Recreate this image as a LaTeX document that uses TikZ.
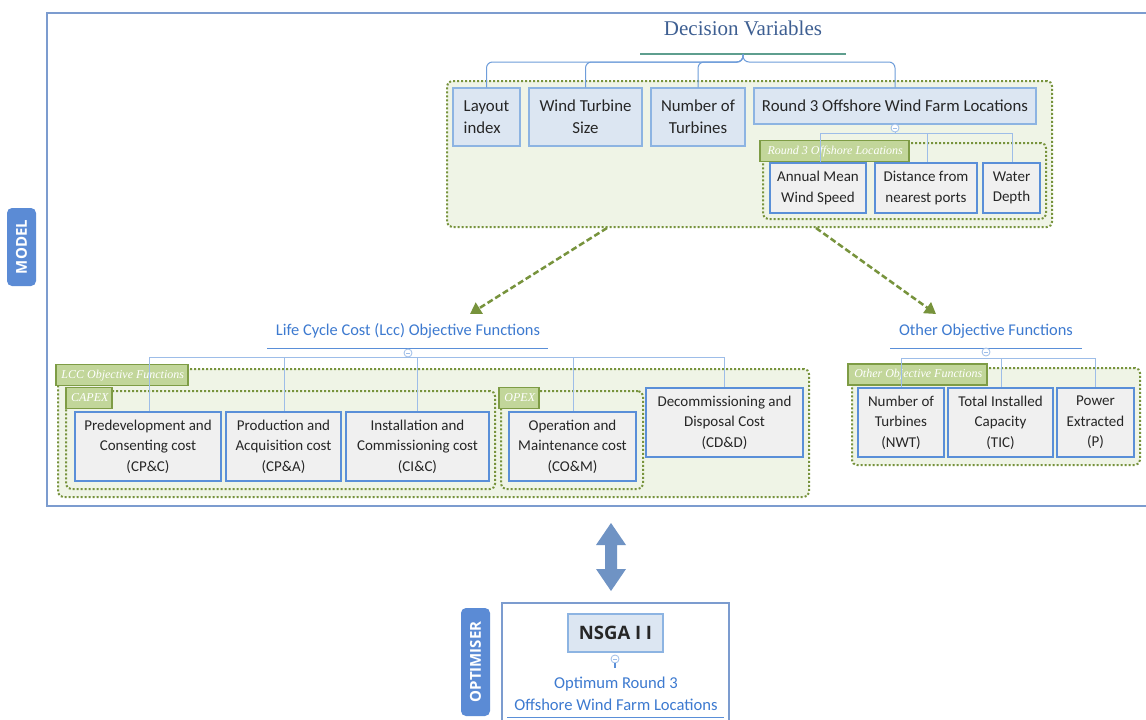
\documentclass[tikz,border=0pt]{standalone}
\usepackage{fontspec}
\usetikzlibrary{arrows.meta,calc}
\newfontfamily\bodyf{Carlito}
\newfontfamily\serf{Liberation Serif}
\newfontfamily\labf{Open Sans}
\definecolor{frameblue}{HTML}{7C9CCF}
\definecolor{labelblue}{HTML}{5B8BD5}
\definecolor{dvfill}{HTML}{DCE6F2}
\definecolor{dvdraw}{HTML}{8DB4E2}
\definecolor{subfill}{HTML}{F0F0F0}
\definecolor{subdraw}{HTML}{5A8FD8}
\definecolor{contfill}{HTML}{EFF4E6}
\definecolor{contdraw}{HTML}{77933C}
\definecolor{tagfill}{HTML}{C2D69A}
\definecolor{tagdraw}{HTML}{7E9C45}
\definecolor{connc}{HTML}{6E9DDA}
\definecolor{lconn}{HTML}{9DBDE8}
\definecolor{titleblue}{HTML}{3E5F92}
\definecolor{lccblue}{HTML}{3D7AD0}
\definecolor{tealline}{HTML}{5E9E8E}
\definecolor{arrgreen}{HTML}{77933C}
\definecolor{arrblue}{HTML}{6F93C4}
\definecolor{txt}{HTML}{262626}
\tikzset{
  dvbox/.style={draw=dvdraw, fill=dvfill, line width=1.5pt, text=txt, align=center,
    font=\bodyf\fontsize{16.8}{22}\selectfont, inner sep=0pt},
  subbox/.style={draw=subdraw, fill=subfill, line width=2pt, text=txt, align=center,
    font=\bodyf\fontsize{15}{20.5}\selectfont, inner sep=0pt},
  cont/.style={draw=contdraw, fill=contfill, dotted, line width=2pt, rounded corners=5pt},
  tagbox/.style={draw=tagdraw, fill=tagfill, line width=1.5pt, text=white, anchor=west,
    font=\serf\itshape\fontsize{12}{14}\selectfont, inner sep=0pt, minimum height=21pt, text height=9pt, text depth=3pt},
  conn/.style={draw=connc, line width=1pt, rounded corners=6pt},
  lconnst/.style={draw=lconn, line width=1pt},
  circ/.style={circle, draw=lconn, fill=white, line width=0.8pt, minimum size=8pt, inner sep=0pt,
    path picture={\draw[lconn,line width=0.7pt] ([xshift=-2pt]path picture bounding box.center) -- ([xshift=2pt]path picture bounding box.center);}},
  ttl/.style={text=lccblue, font=\bodyf\fontsize{16.4}{20}\selectfont, inner sep=0pt},
  garrow/.style={draw=arrgreen, line width=2.5pt, dash pattern=on 6pt off 3pt, -{Triangle[length=11pt,width=13pt]}},
  sidelab/.style={fill=labelblue, rounded corners=5pt, text=white, rotate=90, inner sep=0pt,
    font=\labf\bfseries\fontsize{15}{17}\selectfont}
}
\begin{document}
\begin{tikzpicture}[x=1pt,y=-1pt]
\useasboundingbox[fill=white] (0,0) rectangle (1146,720);

% model frame
\draw[frameblue, line width=2pt] (1160,13) -- (47,13) -- (47,506) -- (1160,506);
\node[sidelab, minimum width=78pt, minimum height=29pt] (modellab) at (21.5,247) {MODEL};

% decision variables
\node[text=titleblue, font=\serf\fontsize{21}{24}\selectfont, inner sep=0pt] (dvt) at (743,28) {Decision Variables};
\draw[tealline, line width=2pt] (640,54) -- (846,54);
\coordinate (dvhub) at (743,54);

\node[cont, minimum width=605pt, minimum height=146pt] (dvcont) at (749.5,154) {};

\node[dvbox, minimum width=67pt, minimum height=58pt, align=left] (layout) at (486.5,117) {Layout\\index};
\node[dvbox, minimum width=113pt, minimum height=58pt] (wts) at (585.5,117) {Wind Turbine\\Size};
\node[dvbox, minimum width=94pt, minimum height=58pt] (not) at (698,117) {Number of\\Turbines};
\node[dvbox, minimum width=282pt, minimum height=36pt] (r3) at (895,106) {Round 3 Offshore Wind Farm Locations};

\draw[conn] (dvhub) -- (743,62) -| (layout.north);
\draw[conn] (dvhub) -- (743,62) -| (wts.north);
\draw[conn] (dvhub) -- (743,62) -| (not.north);
\draw[conn] (dvhub) -- (743,62) -| (r3.north);

% round 3 sub
\node[cont, minimum width=283pt, minimum height=76pt] (r3cont) at (904.5,181) {};
\node[tagbox, minimum width=149pt] (r3tag) at (759,151) {\hspace{2pt}Round 3 Offshore Locations};
\node[circ] (r3c) at (895,128) {};
\draw[lconnst] (r3c) -- (895,133);
\draw[lconnst] (820,163) -- (820,133) -- (1012,133) -- (1012,163);
\draw[lconnst] (927,133) -- (927,163);
\node[subbox, minimum width=96pt, minimum height=50pt] (ams) at (818,188) {Annual Mean\\Wind Speed};
\node[subbox, minimum width=102pt, minimum height=50pt] (dist) at (926,188) {Distance from\\nearest ports};
\node[subbox, minimum width=57pt, minimum height=50pt] (wd) at (1011.5,188) {Water\\Depth};

% green dashed arrows
\coordinate (ga1) at (607,228);
\coordinate (ga2) at (816,228);
\draw[garrow] (ga1) -- (470,314);
\draw[garrow] (ga2) -- (936,314);

% LCC
\node[ttl] (lcct) at (408,331) {Life Cycle Cost (Lcc) Objective Functions};
\draw[subdraw, line width=1pt] (267,348) -- (548,348);
\node[cont, minimum width=751pt, minimum height=128pt] (lcccont) at (433.5,433) {};
\node[tagbox, minimum width=132pt] (lcctag) at (55,375) {\hspace{2pt}LCC Objective Functions};
\node[cont, minimum width=429pt, minimum height=98pt] (capcont) at (280.5,440) {};
\node[tagbox, minimum width=46pt] (captag) at (65,398) {\hspace{2pt}CAPEX};
\node[cont, minimum width=142pt, minimum height=98pt] (opcont) at (572,440) {};
\node[tagbox, minimum width=40pt] (optag) at (498,398) {\hspace{2pt}OPEX};

\node[circ] (lccc) at (408,353) {};
\draw[lconnst] (149,412) -- (149,357) -- (724,357) -- (724,388);
\draw[lconnst] (284,357) -- (284,412);
\draw[lconnst] (417,357) -- (417,412);
\draw[lconnst] (573,357) -- (573,412);

\node[subbox, minimum width=146pt, minimum height=69pt] (pcc) at (148,446.5) {Predevelopment and\\Consenting cost\\(CP\&C)};
\node[subbox, minimum width=115pt, minimum height=69pt] (pac) at (283.5,446.5) {Production and\\Acquisition cost\\(CP\&A)};
\node[subbox, minimum width=143pt, minimum height=69pt] (icc) at (417.5,446.5) {Installation and\\Commissioning cost\\(CI\&C)};
\node[subbox, minimum width=127pt, minimum height=69pt] (omc) at (572.5,446.5) {Operation and\\Maintenance cost\\(CO\&M)};
\node[subbox, minimum width=157pt, minimum height=69pt] (ddc) at (724.5,422.5) {Decommissioning and\\Disposal Cost\\(CD\&D)};

% Other
\node[ttl] (oft) at (986,331) {Other Objective Functions};
\draw[subdraw, line width=1pt] (890,348) -- (1082,348);
\node[cont, minimum width=288pt, minimum height=97pt] (ofcont) at (996,416.5) {};
\node[tagbox, minimum width=139pt] (oftag) at (847,374.5) {\hspace{2pt}Other Objective Functions};
\node[circ] (ofc) at (986,352) {};
\draw[lconnst] (901,388) -- (901,358) -- (1095,358) -- (1095,388);
\draw[lconnst] (1001,358) -- (1001,388);
\node[subbox, minimum width=86pt, minimum height=69pt] (nwt) at (901,422.5) {Number of\\Turbines\\(NWT)};
\node[subbox, minimum width=105pt, minimum height=69pt] (tic) at (1000.5,422.5) {Total Installed\\Capacity\\(TIC)};
\node[subbox, minimum width=77pt, minimum height=69pt] (pex) at (1095.5,422.5) {Power\\Extracted\\(P)};

% double arrow
\coordinate (datop) at (611,523);
\coordinate (dabot) at (611,591);
\fill[arrblue] (datop) -- ++(15,22) -- ++(-9,0) -- ++(0,24) -- ++(9,0) -- (dabot) -- ++(-15,-22) -- ++(9,0) -- ++(0,-24) -- ++(-9,0) -- cycle;

% optimiser
\draw[frameblue, line width=2pt] (502,725) -- (502,603) -- (729,603) -- (729,725);
\node[sidelab, minimum width=108pt, minimum height=29pt] (optlab) at (475.5,662) {OPTIMISER};
\node[dvbox, minimum width=95pt, minimum height=38pt, font=\labf\bfseries\fontsize{18.5}{20}\selectfont] (nsga) at (615.5,633) {NSGA I I};
\node[circ] (nsc) at (615,659) {};
\draw[subdraw, line width=1.5pt] (nsc) -- (615,668);
\node[ttl, align=center, font=\bodyf\fontsize{16.6}{22}\selectfont] (optres) at (616,694) {Optimum Round 3\\Offshore Wind Farm Locations};
\draw[subdraw, line width=1pt] (507,717) -- (724,717);
\end{tikzpicture}
\end{document}
